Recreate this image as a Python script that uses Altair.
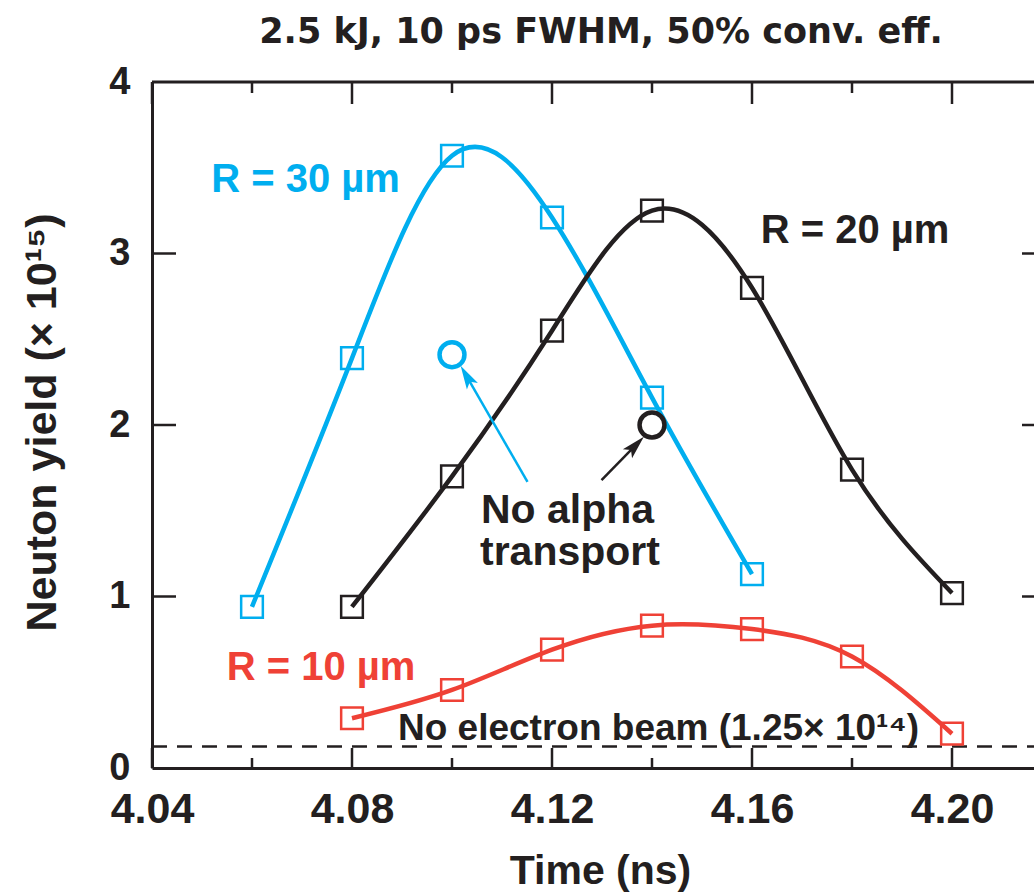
import altair as alt
import pandas as pd

INK = "#231F20"
CYAN = "#00AEEF"
RED = "#EF4136"
FONT = "Liberation Sans"

# ---------------- data ----------------
time_30 = [4.06, 4.08, 4.10, 4.12, 4.14, 4.16]
yield_30 = [0.94, 2.39, 3.57, 3.21, 2.16, 1.13]
time_20 = [4.08, 4.10, 4.12, 4.14, 4.16, 4.18, 4.20]
yield_20 = [0.94, 1.70, 2.55, 3.25, 2.80, 1.74, 1.02]
time_10 = [4.08, 4.10, 4.12, 4.14, 4.16, 4.18, 4.20]
yield_10 = [0.29, 0.455, 0.69, 0.83, 0.81, 0.65, 0.20]

no_alpha_series = ["30", "20"]
no_alpha_time = [4.10, 4.14]
no_alpha_yield = [2.41, 2.00]

no_beam_yield = 0.125  # 1.25e14 in units of 1e15

x_ticks_major = [4.04, 4.08, 4.12, 4.16, 4.20]
x_ticks_minor = [4.06, 4.10, 4.14, 4.18]
y_ticks = [0, 1, 2, 3, 4]

# annotation anchors (data units)
label_text = ["R = 30 µm", "R = 20 µm", "R = 10 µm"]
label_series = ["30", "20", "10"]
label_time = [4.0707, 4.1806, 4.0738]
label_yield = [3.36, 3.06, 0.513]

alpha_text = ["No alpha", "transport"]
alpha_time = [4.1231, 4.1236]
alpha_yield = [1.4286, 1.184]

beam_text = ["No electron beam (1.25× 10¹⁴)"]
beam_time = [4.1413]
beam_yield = [0.163]

arrow_series = ["30", "20"]
arrow_tail_time = [4.1151, 4.1299]
arrow_tail_yield = [1.669, 1.679]
arrow_head_time = [4.1030, 4.1366]
arrow_head_yield = [2.281, 1.878]
arrow_angle = [330, 44]

# ---------------- geometry ----------------
W, H = 882, 686
XMIN = 4.04
XMAX = XMIN + W * 0.04 / 200.0
YMAX = 4.0
PX_X = 0.04 / 200.0
PX_Y = YMAX / H

x_scale = alt.Scale(domain=[XMIN, XMAX], nice=False, zero=False)
y_scale = alt.Scale(domain=[0, YMAX], nice=False)
color_scale = alt.Scale(domain=["30", "20", "10"], range=[CYAN, INK, RED])

x_axis = alt.Axis(values=x_ticks_major, format=".2f", title="Time (ns)",
                  titleX=448, titleY=115, titleBaseline="alphabetic",
                  titleAlign="center", titleAngle=0, titleFontSize=41)
y_axis = alt.Axis(values=y_ticks, format="d", title="Neuton yield (× 10¹⁵)",
                  titleAngle=270, titleX=-97, titleY=340, titleFontSize=43,
                  titleBaseline="alphabetic", titleAlign="center")


def X(field="t"):
    return alt.X(f"{field}:Q", scale=x_scale, axis=x_axis)


def Y(field="y"):
    return alt.Y(f"{field}:Q", scale=y_scale, axis=y_axis)


# ---------------- tables ----------------
curves = pd.DataFrame(
    [{"s": "30", "t": t, "y": v} for t, v in zip(time_30, yield_30)]
    + [{"s": "20", "t": t, "y": v} for t, v in zip(time_20, yield_20)]
    + [{"s": "10", "t": t, "y": v} for t, v in zip(time_10, yield_10)]
)
circles = pd.DataFrame({"s": no_alpha_series, "t": no_alpha_time, "y": no_alpha_yield})

tick_rows = []
for t in x_ticks_major:
    tick_rows.append({"t": t, "t2": t, "y": 0, "y2": 20 * PX_Y})
    tick_rows.append({"t": t, "t2": t, "y": YMAX - 22 * PX_Y, "y2": YMAX})
for t in x_ticks_minor:
    tick_rows.append({"t": t, "t2": t, "y": 0, "y2": 10 * PX_Y})
    tick_rows.append({"t": t, "t2": t, "y": YMAX - 11 * PX_Y, "y2": YMAX})
for v in y_ticks[1:-1]:
    tick_rows.append({"t": XMIN, "t2": XMIN + 24 * PX_X, "y": v, "y2": v})
    tick_rows.append({"t": XMAX - 12 * PX_X, "t2": XMAX, "y": v, "y2": v})
ticks = pd.DataFrame(tick_rows)

frame_top = pd.DataFrame({"t": [XMIN], "t2": [XMAX], "y": [YMAX]})
beam_line = pd.DataFrame({"t": [XMIN], "t2": [XMAX], "y": [no_beam_yield]})

arrows = pd.DataFrame({"s": arrow_series, "t": arrow_tail_time, "y": arrow_tail_yield,
                       "t2": arrow_head_time, "y2": arrow_head_yield, "a": arrow_angle})
labels = pd.DataFrame({"s": label_series, "t": label_time, "y": label_yield, "txt": label_text})
alpha_lbl = pd.DataFrame({"t": alpha_time, "y": alpha_yield, "txt": alpha_text})
beam_lbl = pd.DataFrame({"t": beam_time, "y": beam_yield, "txt": beam_text})

color = alt.Color("s:N", scale=color_scale, legend=None)

# ---------------- layers ----------------
beam_layer = alt.Chart(beam_line).mark_rule(color=INK, strokeWidth=2.5, strokeDash=[15, 10]).encode(
    x=X(), x2="t2", y=Y())
top_layer = alt.Chart(frame_top).mark_rule(color=INK, strokeWidth=3).encode(
    x=X(), x2="t2", y=Y())
tick_layer = alt.Chart(ticks).mark_rule(color=INK, strokeWidth=2.5).encode(
    x=X(), x2="t2", y=Y(), y2="y2")

squares = alt.Chart(curves).mark_point(shape="square", filled=False, size=470, strokeWidth=2.5, opacity=1).encode(
    x=X(), y=Y(), color=color)
lines = alt.Chart(curves).mark_line(interpolate="natural", strokeWidth=4.5).encode(
    x=X(), y=Y(), color=color)
circle_layer = alt.Chart(circles).mark_point(shape="circle", filled=False, size=620, strokeWidth=4.5, opacity=1).encode(
    x=X(), y=Y(), color=color)

shafts = alt.Chart(arrows).mark_rule(strokeWidth=2.5).encode(
    x=X(), y=Y(), x2="t2", y2="y2", color=color)
heads = alt.Chart(arrows).mark_point(
    shape="M0,-1L0.5,0.85L0,0.45L-0.5,0.85Z", filled=True, size=650, opacity=1, strokeWidth=0
).encode(
    x=X("t2"), y=Y("y2"), color=color, angle=alt.Angle("a:Q", scale=None))

r_labels = alt.Chart(labels).mark_text(font=FONT, fontSize=40, fontWeight="bold",
                                        align="center", baseline="alphabetic").encode(
    x=X(), y=Y(), text="txt:N", color=color)
alpha_layer = alt.Chart(alpha_lbl).mark_text(font=FONT, fontSize=41, fontWeight="bold", color=INK,
                                              align="center", baseline="alphabetic").encode(
    x=X(), y=Y(), text="txt:N")
beam_text_layer = alt.Chart(beam_lbl).mark_text(font=FONT, fontSize=37, fontWeight="bold", color=INK,
                                                 align="center", baseline="alphabetic").encode(
    x=X(), y=Y(), text="txt:N")

chart = alt.layer(
    beam_layer, top_layer, tick_layer, squares, lines, circle_layer, shafts, heads,
    r_labels, alpha_layer, beam_text_layer
).properties(
    width=W, height=H,
    padding={"left": 152, "top": 82, "right": 0, "bottom": 124},
    autosize=alt.AutoSizeParams(type="none"),
    title=alt.TitleParams("2.5 kJ, 10 ps FWHM, 50% conv. eff.", font="DejaVu Sans", fontSize=35,
                          fontWeight="bold", color=INK, anchor="middle", frame="group",
                          offset=20, dx=8, dy=35, baseline="alphabetic"),
).configure_view(stroke=None).configure_axis(
    labelFont=FONT, labelFontWeight="bold", labelColor=INK,
    titleFont=FONT, titleFontWeight="bold", titleColor=INK,
    domainColor=INK, domainWidth=3, ticks=False, tickSize=0, grid=False,
).configure_axisX(labelFontSize=43, labelPadding=20, labelFlush=False
).configure_axisY(labelFontSize=38, labelPadding=22)

chart.save("out.html", embed_options={"renderer": "svg", "actions": False})
